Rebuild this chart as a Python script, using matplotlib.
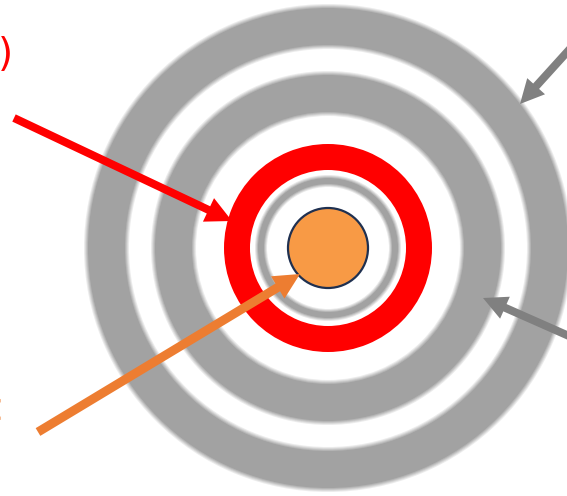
import numpy as np
import matplotlib
matplotlib.use('Agg')
import matplotlib.pyplot as plt
from matplotlib.patches import Wedge, Circle, FancyArrow
from matplotlib.colors import to_rgb

W, H = 567, 496
center = (328, 248)

# rings: (inner radius, outer radius)
gray_rings = [(203, 240), (136, 173)]
red_ring = (78, 104)
thin_ring = (64, 70)
dot_radius = 40

# arrows: start x, start y, tip x, tip y
red_arrow = [14, 118, 232, 221]
orange_arrow = [38, 432, 300, 274]
gray_arrows = [[578, 40, 520, 104], [578, 340, 483, 298]]

ring_gray = '#a2a2a2'
red = '#ff0000'
orange_line = '#ed7d31'
orange_fill = '#f89a45'
navy = '#1f3050'
gray_arrow_col = '#808080'


def blend(c, t):
    # t=1 -> colour, t=0 -> white
    r, g, b = to_rgb(c)
    return (1 - t + t * r, 1 - t + t * g, 1 - t + t * b)


def soft_ring(ax, r_in, r_out, col, blur=4.0, z=1):
    # paint from the widest, palest band inwards so the bands overlap without seams
    for s in np.arange(blur, -0.5, -1.0):
        t = 1 - s / (blur + 1)
        ax.add_patch(Wedge(center, r_out + s, 0, 360, width=(r_out - r_in) + 2 * s,
                           color=blend(col, t), lw=0, zorder=z))


fig = plt.figure(figsize=(W / 100, H / 100), dpi=100)
ax = fig.add_axes([0, 0, 1, 1])
ax.set_xlim(0, W)
ax.set_ylim(H, 0)
ax.set_aspect('equal')
ax.axis('off')

for r_in, r_out in gray_rings:
    soft_ring(ax, r_in, r_out, ring_gray, blur=4)
soft_ring(ax, thin_ring[0], thin_ring[1], ring_gray, blur=3)
ax.add_patch(Wedge(center, red_ring[1], 0, 360, width=red_ring[1] - red_ring[0], color=red, lw=0, zorder=2))
ax.add_patch(Circle(center, dot_radius, facecolor=orange_fill, edgecolor=navy, lw=1.6, zorder=3))


def arrow(ax, a, col, w, hw, hl, z):
    x0, y0, x1, y1 = a
    ax.add_patch(FancyArrow(x0, y0, x1 - x0, y1 - y0, width=w, head_width=hw, head_length=hl,
                            length_includes_head=True, color=col, lw=0, zorder=z))


arrow(ax, red_arrow, red, 8, 26, 26, 4)
arrow(ax, orange_arrow, orange_line, 9, 26, 26, 5)
for g in gray_arrows:
    arrow(ax, g, gray_arrow_col, 8, 24, 24, 4)

# labels cut off at the left edge, as in the reference
ax.text(13, 55, ')', color=red, fontsize=28, ha='right', va='center', family='DejaVu Sans')
ax.text(1.5, 412, 'C', color=orange_line, fontsize=24, ha='right', va='center', family='DejaVu Sans')

fig.savefig('out.png', dpi=100)
